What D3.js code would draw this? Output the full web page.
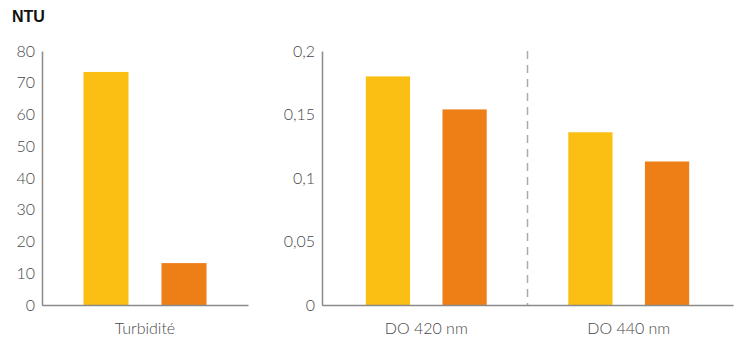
<!DOCTYPE html>
<html><head><meta charset="utf-8">
<script src="https://cdn.jsdelivr.net/npm/d3@7"></script>
<style>body{margin:0;background:#fff}svg{display:block}</style>
</head><body>
<script>
const seriesKeys = ["a", "b"];
const colors = ["#FBBE12", "#EE7F16"];
const leftCategories = ["Turbidité"];
const leftValues = [[73.4, 13.2]];
const leftTicks = [0, 10, 20, 30, 40, 50, 60, 70, 80];
const rightCategories = ["DO 420 nm", "DO 440 nm"];
const rightValues = [[0.18, 0.154], [0.136, 0.113]];
const rightTicks = [0, 0.05, 0.1, 0.15, 0.2];
const unitLabel = "NTU";

const W = 742, H = 340;
const svg = d3.select("body").append("svg").attr("width", W).attr("height", H);
const font = "Lato, 'Open Sans', sans-serif";
const axisColor = "#8a8a8a";
const textColor = "#484848";
const y0 = 305, yTop = 51;

svg.append("text").attr("x", 12).attr("y", 22).text(unitLabel)
  .attr("font-family", "'Liberation Sans', Arial, sans-serif").attr("font-weight", 700)
  .attr("font-size", 16).attr("fill", "#111");

function panel(x0, x1, cats, vals, ticks, maxV, fmt, divider, outer) {
  const g = svg.append("g");
  const x = d3.scaleBand().domain(cats).range([x0, x1]).paddingInner(0).paddingOuter(outer);
  const xi = d3.scaleBand().domain(seriesKeys).range([0, x.bandwidth()])
    .paddingInner(0.423).paddingOuter(0.532);
  const y = d3.scaleLinear().domain([0, maxV]).range([y0, yTop]);

  cats.forEach((c, ci) => {
    seriesKeys.forEach((k, si) => {
      g.append("rect")
        .attr("x", x(c) + xi(k)).attr("width", xi.bandwidth())
        .attr("y", y(vals[ci][si])).attr("height", y0 - y(vals[ci][si]))
        .attr("fill", colors[si]);
    });
  });

  if (divider) {
    cats.slice(1).forEach(c => {
      g.append("line").attr("x1", x(c)).attr("x2", x(c))
        .attr("y1", yTop).attr("y2", y0)
        .attr("stroke", "#aaa").attr("stroke-width", 1.5)
        .attr("stroke-dasharray", "8,6");
    });
  }

  const ya = g.append("g").attr("transform", `translate(${x0},0)`)
    .call(d3.axisLeft(y).tickValues(ticks).tickSize(0).tickPadding(7).tickFormat(fmt));
  ya.select(".domain").attr("stroke", axisColor).attr("stroke-width", 1.5);
  ya.selectAll("text").attr("font-family", font).attr("font-size", 16)
    .attr("fill", textColor).attr("font-weight", 300);

  const xa = g.append("g").attr("transform", `translate(0,${y0})`)
    .call(d3.axisBottom(x).tickSize(0).tickPadding(18));
  xa.select(".domain").attr("stroke", axisColor).attr("stroke-width", 1.5);
  xa.selectAll("text").attr("font-family", font).attr("font-size", 16)
    .attr("fill", textColor).attr("font-weight", 300);
}

const commaFmt = d => String(d).replace(".", ",");
panel(42, 248, leftCategories, leftValues, leftTicks, 80, d => String(d), false, 0);
panel(322, 733, rightCategories, rightValues, rightTicks, 0.2, commaFmt, true, 0.015);
</script>
</body></html>
